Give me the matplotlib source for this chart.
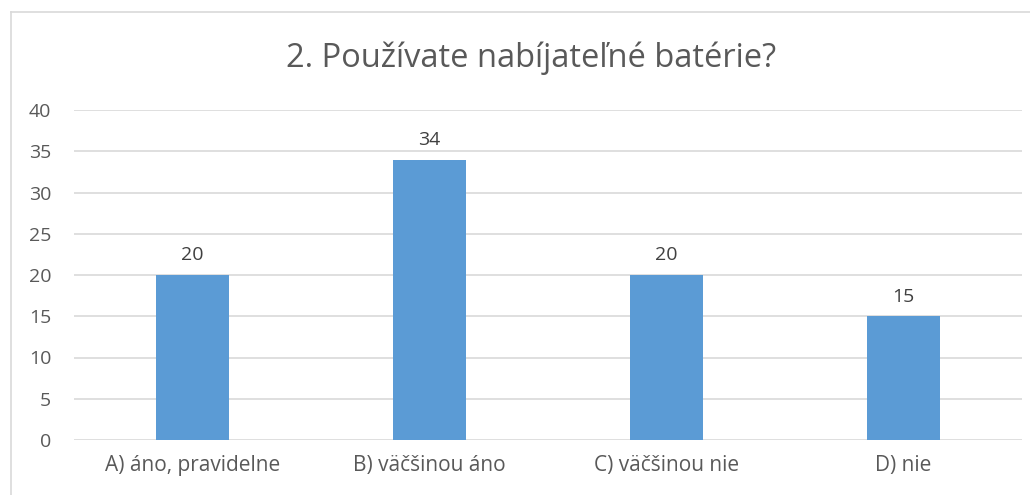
import matplotlib.pyplot as plt
import numpy as np
from matplotlib.lines import Line2D

# --- datos ---
kategorie = ['A) áno, pravidelne', 'B) väčšinou áno', 'C) väčšinou nie', 'D) nie']
hodnoty = [20, 34, 20, 15]
titulok = '2. Používate nabíjateľné batérie?'
y_ticky = [0, 5, 10, 15, 20, 25, 30, 35, 40]

plt.rcParams['font.family'] = ['Open Sans', 'DejaVu Sans']
sivá = '#595959'

W, H = 1030, 495
fig = plt.figure(figsize=(W / 100, H / 100), dpi=100)
ax = fig.add_axes([74 / W, 1 - 440 / H, (1022 - 74) / W, (440 - 110) / H])

x = np.arange(len(kategorie))
bars = ax.bar(x, hodnoty, width=0.312, color='#5B9BD5', zorder=3)
for b, v in zip(bars, hodnoty):
    ax.text(b.get_x() + b.get_width() / 2, v + 1.3, str(v), ha='center', va='bottom',
            fontsize=14, color='#404040')

ax.set_xlim(-0.5, len(kategorie) - 0.5)
ax.set_ylim(0, 40)
ax.set_yticks(y_ticky)
ax.set_xticks(x)
ax.set_xticklabels(kategorie)
ax.tick_params(axis='both', length=0, labelsize=14, colors=sivá)
ax.tick_params(axis='x', labelsize=15, pad=10.5)
ax.tick_params(axis='y', pad=16.5)
ax.yaxis.grid(True, color='#D9D9D9', linewidth=1.2, zorder=0)
for s in ax.spines.values():
    s.set_visible(False)

fig.text(531 / W, 1 - 58 / H, titulok, ha='center', va='center', fontsize=23.5, color=sivá)

# ramček grafu (vpravo a dole orezaný)
fig.add_artist(Line2D([10.5 / W, 10.5 / W], [0, 1 - 12 / H], color='#D9D9D9', linewidth=1.2))
fig.add_artist(Line2D([10.5 / W, 1], [1 - 12 / H, 1 - 12 / H], color='#D9D9D9', linewidth=1.2))

plt.savefig('out.png', dpi=100)
plt.close()
